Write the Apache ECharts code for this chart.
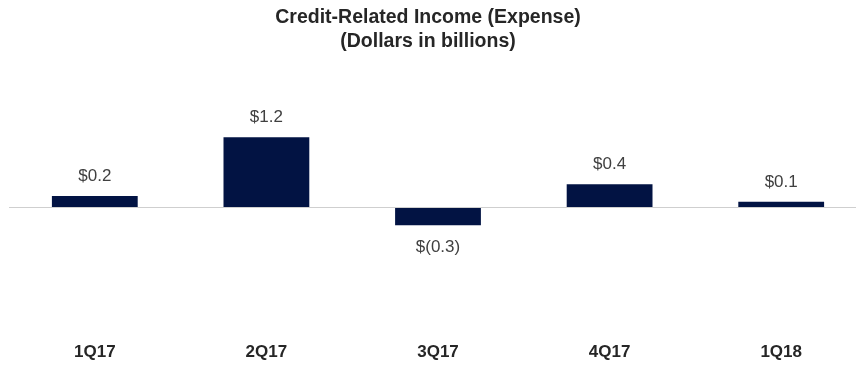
<!DOCTYPE html>
<html>
<head>
<meta charset="utf-8">
<script src="https://cdn.jsdelivr.net/npm/echarts@6/dist/echarts.min.js"></script>
<style>
  html, body { margin: 0; padding: 0; background: #fff; }
  #chart { width: 856px; height: 365px; }
</style>
</head>
<body>
<div id="chart"></div>
<script>
// Quarterly credit-related income (expense), billions of dollars
const quarters = ['1Q17', '2Q17', '3Q17', '4Q17', '1Q18'];
const creditIncome = [0.2, 1.2, -0.3, 0.4, 0.1];

function fmtDollars(v) {
  const s = Math.abs(v).toFixed(1);
  return v < 0 ? '$(' + s + ')' : '$' + s;
}

const FONT = 'Liberation Sans, Arial, sans-serif';
const chart = echarts.init(document.getElementById('chart'), null, { renderer: 'canvas' });

chart.setOption({
  animation: false,
  title: {
    text: 'Credit-Related Income (Expense)\n(Dollars in billions)',
    left: 'center',
    top: 1,
    textStyle: {
      fontFamily: FONT,
      fontSize: 19.5,
      fontWeight: 'bold',
      color: '#262626',
      lineHeight: 23.5
    }
  },
  // plot area runs slightly past the right edge so the last bar keeps its slot
  grid: {
    left: 9, width: 858, top: 90.3, height: 234.8,
    containLabel: false,
    outerBoundsMode: 'none'
  },
  xAxis: {
    type: 'category',
    data: quarters,
    axisLine: { show: false, onZero: false },
    axisTick: { show: false },
    axisLabel: {
      margin: 19,
      fontFamily: FONT,
      fontSize: 17,
      fontWeight: 'bold',
      color: '#262626'
    }
  },
  yAxis: {
    type: 'value',
    min: -2,
    max: 2,
    show: false,
    splitLine: { show: false }
  },
  series: [{
    type: 'bar',
    data: creditIncome.map(v => ({
      value: v,
      label: v < 0 ? { position: 'bottom', distance: 14 } : { position: 'top' }
    })),
    barWidth: '50%',
    itemStyle: { color: '#021343' },
    label: {
      show: true,
      distance: 11.5,
      formatter: p => fmtDollars(p.value),
      fontFamily: FONT,
      fontSize: 17,
      color: '#404040'
    },
    markLine: {
      silent: true,
      symbol: 'none',
      label: { show: false },
      lineStyle: { color: '#cfcfcf', type: 'solid', width: 1 },
      data: [{ yAxis: 0 }]
    }
  }]
});
</script>
</body>
</html>
